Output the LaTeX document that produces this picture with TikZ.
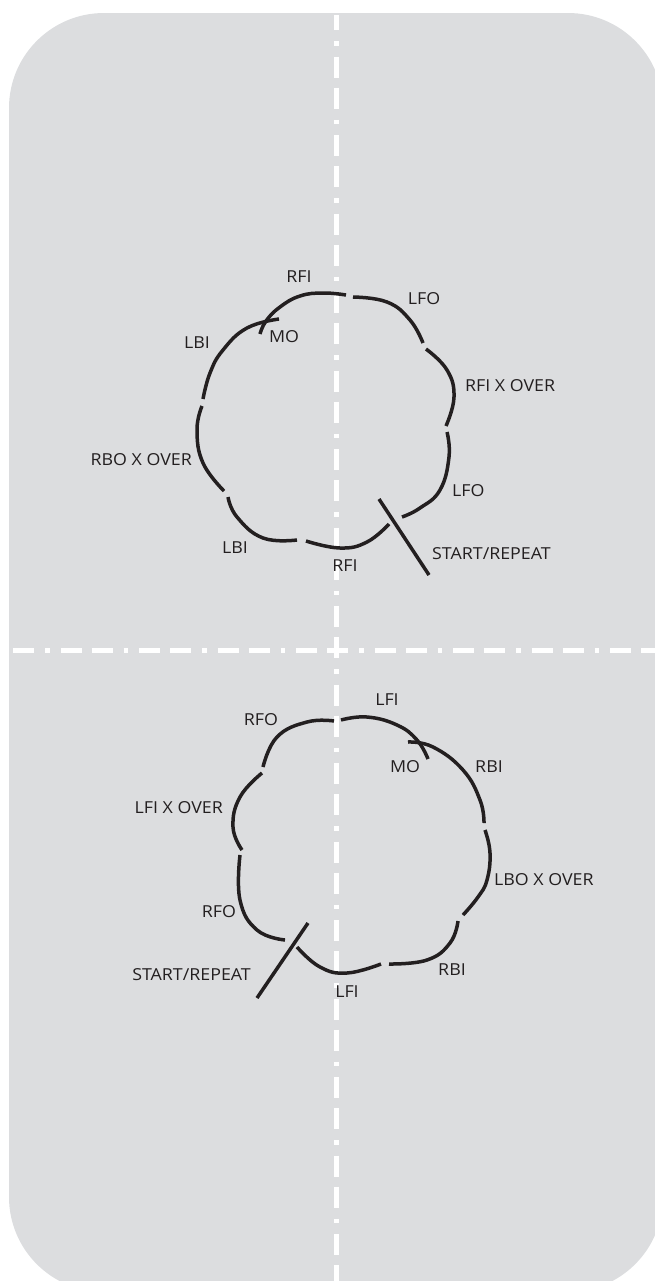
\documentclass[tikz,border=0pt]{standalone}
\usepackage{fontspec}
\newfontfamily\lblfont{Open Sans}[FakeStretch=1.08]
\usepackage{tikz}
\definecolor{panelgray}{RGB}{220,221,223}
\definecolor{inkblack}{RGB}{35,31,32}

\begin{document}
\begin{tikzpicture}[x=1bp, y=-1bp,
  lbl/.style={font=\lblfont\fontsize{16.5bp}{18bp}\selectfont, text=inkblack, inner sep=0pt, text height=11.7bp, text depth=0pt},
  trace/.style={line width=3.5bp, draw=inkblack},
  axisline/.style={line width=5bp, white, dash pattern=on 21bp off 10bp on 21bp off 11bp on 4.5bp off 11bp}]
\useasboundingbox (0,0) rectangle (655,1281);
% Rink panel (runs off the right and bottom edge)
\begin{scope}
  \clip (0,0) rectangle (655,1281);
  \fill[panelgray, rounded corners=95bp] (9,13) rectangle (663,1292);
\end{scope}
% Long and short axis
\coordinate (axTop) at (336,15);
\coordinate (axBot) at (336,1281);
\coordinate (axLeft) at (13,650);
\coordinate (axRight) at (655,650);
\draw[axisline, dash phase=37bp] (axTop) -- (axBot);
\draw[axisline, dash phase=31bp] (axLeft) -- (axRight);

% Upper pattern: eight lobes
\draw[trace] plot[smooth, tension=0.75] coordinates {(260,334) (266,321) (280,307) (300,296) (323,293) (346,295)};
\draw[trace] plot[smooth, tension=0.75] coordinates {(279,319) (247,328) (223,350) (210,373) (203,399)};
\draw[trace] plot[smooth, tension=0.75] coordinates {(202,406) (197,430) (203,463) (224,491)};
\draw[trace] plot[smooth, tension=0.75] coordinates {(228,497) (237,517) (263,538) (297,540)};
\draw[trace] plot[smooth, tension=0.75] coordinates {(306,541) (340,548) (367,542) (389,524)};
\draw[trace] plot[smooth, tension=0.75] coordinates {(402,517) (420,508) (440,490) (449,457) (447,432)};
\draw[trace] plot[smooth, tension=0.75] coordinates {(446,426) (454,397) (447,370) (426,349)};
\draw[trace] plot[smooth, tension=0.75] coordinates {(423,343) (410,320) (387,302) (353,297)};
\coordinate (st1) at (379,499);
\coordinate (st2) at (429,575);
\draw[trace] (st1) -- (st2);
% Upper labels
\node[lbl] (rfiTop) at (299,277) {RFI};
\node[lbl] (lfoTop) at (424,299) {LFO};
\node[lbl] (moTop) at (284,337) {MO};
\node[lbl] (lbiTop) at (197,343) {LBI};
\node[lbl, anchor=west] (rfiX) at (465,386) {RFI X OVER};
\node[lbl, anchor=west] (lfoRight) at (452,491) {LFO};
\node[lbl, anchor=west] (startTop) at (432,554) {START/REPEAT};
\node[lbl, anchor=east] (rboX) at (192,460) {RBO X OVER};
\node[lbl] (lbiLow) at (235,548) {LBI};
\node[lbl] (rfiLow) at (345,566) {RFI};

% Lower pattern: eight lobes
\draw[trace] plot[smooth, tension=0.75] coordinates {(263,767) (277,737) (307,722) (334,721)};
\draw[trace] plot[smooth, tension=0.75] coordinates {(341,720) (367,717) (397,725) (417,740) (428,759)};
\draw[trace] plot[smooth, tension=0.75] coordinates {(408,742) (433,747) (463,770) (480,800) (484,823)};
\draw[trace] plot[smooth, tension=0.75] coordinates {(485,830) (490,853) (487,880) (478,897) (463,915)};
\draw[trace] plot[smooth, tension=0.75] coordinates {(458,921) (450,943) (427,960) (389,964)};
\draw[trace] plot[smooth, tension=0.75] coordinates {(381,964) (347,973) (320,967) (297,947)};
\draw[trace] plot[smooth, tension=0.75] coordinates {(285,940) (257,930) (240,900) (240,855)};
\draw[trace] plot[smooth, tension=0.75] coordinates {(242,850) (233,827) (240,797) (262,773)};
\coordinate (sb1) at (308,923);
\coordinate (sb2) at (257,998);
\draw[trace] (sb1) -- (sb2);
% Lower labels
\node[lbl] (lfiTop) at (387,700) {LFI};
\node[lbl] (rfoTop) at (261,720) {RFO};
\node[lbl] (moBot) at (405,767) {MO};
\node[lbl] (rbiTop) at (489,767) {RBI};
\node[lbl, anchor=east] (lfiX) at (223,808) {LFI X OVER};
\node[lbl, anchor=west] (lboX) at (494,880) {LBO X OVER};
\node[lbl] (rfoLow) at (219,912) {RFO};
\node[lbl, anchor=east] (startBot) at (251,975) {START/REPEAT};
\node[lbl] (rbiLow) at (452,970) {RBI};
\node[lbl] (lfiLow) at (347,992) {LFI};
\end{tikzpicture}
\end{document}
